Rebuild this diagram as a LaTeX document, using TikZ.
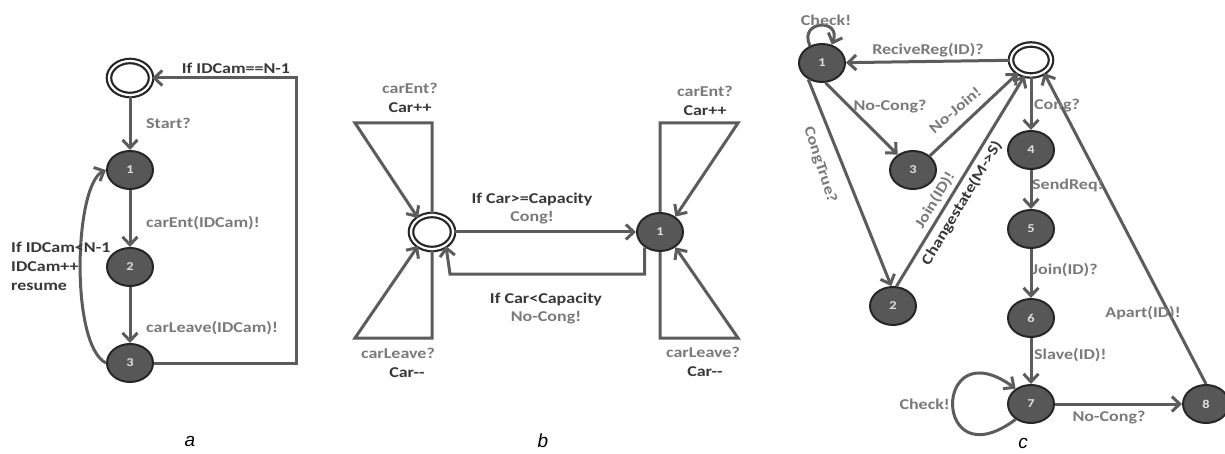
\documentclass[tikz,border=0pt]{standalone}
\usepackage{fontspec}
\setmainfont{Carlito}[FakeStretch=1.2]
\newfontfamily\capfont{Liberation Sans}
\usetikzlibrary{shapes.geometric,arrows.meta}

\tikzset{
  stnode/.style={ellipse, draw=black!85, line width=2pt, fill=black!66,
    minimum width=46pt, minimum height=38pt, inner sep=0pt, text=black!12,
    font=\bfseries\fontsize{12}{12}\selectfont},
  initst/.style={ellipse, draw=black!85, line width=2.2pt, double=white,
    double distance=2.2pt, minimum width=42pt, minimum height=34pt, inner sep=0pt},
  wire/.style={draw=black!64, line width=3pt, line join=miter},
  conn/.style={wire, -{Straight Barb[length=8pt,width=15pt]}},
  lg/.style={text=black!52, font=\bfseries\fontsize{15}{19}\selectfont, inner sep=1pt},
  ld/.style={lg, text=black!78},
  subcap/.style={font=\capfont\itshape\fontsize{19}{19}\selectfont}
}

\begin{document}
\begin{tikzpicture}[x=1pt,y=-1pt]
\useasboundingbox[fill=white] (0,0) rectangle (1225,454);

% ---------------- (a) camera loop ----------------
\node[initst] (a0) at (130,78) {};
\node[stnode] (a1) at (130,170) {1};
\node[stnode] (a2) at (130,267) {2};
\node[stnode] (a3) at (130,363) {3};
\coordinate (aR) at (296,78);

\draw[conn] (a0) -- (a1);
\draw[conn] (a1) -- (a2);
\draw[conn] (a2) -- (a3);
\draw[conn] (a3.east) -| (aR) -- (a0.east);
\draw[conn] (a3.west) .. controls (70,345) and (74,185) .. (a1.west);

\node[lg, anchor=west] (la1) at (145,123) {Start?};
\node[lg, anchor=west] (la2) at (145,223) {carEnt(IDCam)!};
\node[lg, anchor=west] (la3) at (145,328) {carLeave(IDCam)!};
\node[ld] (la4) at (236,68) {If IDCam==N-1};
\node[ld, anchor=north west, align=left] (la5) at (10,241) {If IDCam<N-1\\IDCam++\\resume};

\node[subcap] (capa) at (190,441) {a};

% ---------------- (b) congestion detector ----------------
\node[initst] (b0) at (432,232) {};
\node[stnode] (b1) at (660,232) {1};
\coordinate (bBot) at (450,274);
\coordinate (bLT) at (355,123);
\coordinate (bLB) at (355,338);
\coordinate (bRT) at (738,123);
\coordinate (bRB) at (738,338);

\draw[conn] (b0) -- (b1);
\draw[conn] (b1.-135) |- (bBot) -- (b0.-45);
\draw[conn] (b0.north) |- (bLT) -- (b0.135);
\draw[conn] (b0.south) |- (bLB) -- (b0.-135);
\draw[conn] (b1.north) |- (bRT) -- (b1.45);
\draw[conn] (b1.south) |- (bRB) -- (b1.-45);

\node[lg] (lb1) at (410,88) {carEnt?};
\node[ld] (lb2) at (410,108) {Car++};
\node[lg] (lb3) at (398,353) {carLeave?};
\node[ld] (lb4) at (407,373) {Car-{}-};
\node[lg] (lb5) at (705,91) {carEnt?};
\node[ld] (lb6) at (705,111) {Car++};
\node[lg] (lb7) at (703,352) {carLeave?};
\node[ld] (lb8) at (705,372) {Car-{}-};
\node[ld] (lb9) at (532,199) {If Car>=Capacity};
\node[lg] (lb10) at (532,218) {Cong!};
\node[ld] (lb11) at (546,299) {If Car<Capacity};
\node[lg] (lb12) at (546,318) {No-Cong!};

\node[subcap] (capb) at (543,441) {b};

% ---------------- (c) cluster master/slave ----------------
\node[initst, minimum width=40pt, minimum height=31pt] (c0) at (1031,60) {};
\node[stnode] (c1) at (822,63) {1};
\node[stnode] (c2) at (893,306) {2};
\node[stnode] (c3) at (913,170) {3};
\node[stnode] (c4) at (1031,150) {4};
\node[stnode] (c5) at (1031,229) {5};
\node[stnode] (c6) at (1031,318) {6};
\node[stnode] (c7) at (1031,404) {7};
\node[stnode] (c8) at (1206,404) {8};

\draw[conn] (c0) -- (c1);
\draw[conn] (c1.125) .. controls (798,20) and (842,18) .. (c1.62);
\draw[conn] (c1.-80) -- (c3.135);
\draw[conn] (c3.40) -- (c0.-135);
\draw[conn] (c1.-130) -- (c2.95);
\draw[conn] (c2.80) -- (c0.-112);
\draw[conn] (c0) -- (c4);
\draw[conn] (c4) -- (c5);
\draw[conn] (c5) -- (c6);
\draw[conn] (c6) -- (c7);
\draw[conn] (c7.-135) .. controls (932,482) and (932,328) .. (c7.135);
\draw[conn] (c7) -- (c8);
\draw[conn] (c8.north) -- (c0.-45);

\node[lg] (lc1) at (826,20) {Check!};
\node[lg] (lc2) at (928,50) {ReciveReg(ID)?};
\node[lg] (lc3) at (890,107) {No-Cong?};
\node[lg, rotate=40] (lc4) at (955,110) {No-Join!};
\node[lg, rotate=-72] (lc5) at (820,165) {CongTrue?};
\node[lg, rotate=59] (lc6) at (935,200) {Join(ID)!};
\node[ld, rotate=59] (lc7) at (962,203) {Changestate(M->S)};
\node[lg, anchor=west] (lc8) at (1033,106) {Cong?};
\node[lg, anchor=west] (lc9) at (1031,185) {SendReq!};
\node[lg, anchor=west] (lc10) at (1031,270) {Join(ID)?};
\node[lg, anchor=west] (lc11) at (1033,355) {Slave(ID)!};
\node[lg, anchor=east] (lc12) at (951,404) {Check!};
\node[lg] (lc13) at (1109,418) {No-Cong?};
\node[lg] (lc14) at (1143,313) {Apart(ID)!};

\node[subcap] (capc) at (1023,443) {c};
\end{tikzpicture}
\end{document}
